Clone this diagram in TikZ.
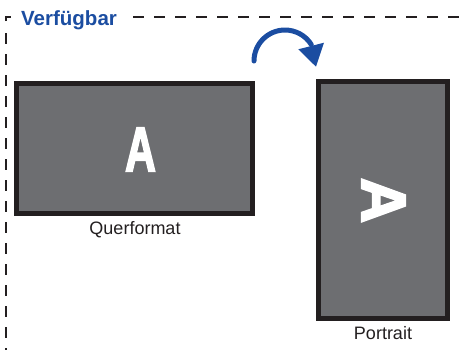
\documentclass[tikz,border=0pt]{standalone}
\usepackage{fontspec}
\setmainfont{Liberation Sans}
\newfontfamily\heavyA[FakeBold=3]{Liberation Sans Bold}
\definecolor{darkline}{HTML}{231F20}
\definecolor{screengray}{HTML}{6D6E71}
\definecolor{titleblue}{HTML}{1B4DA1}
\begin{document}
\begin{tikzpicture}[x=1pt,y=-1pt,
  screen/.style={draw=darkline,fill=screengray,line width=5pt,inner sep=0pt},
  caption/.style={text=darkline,font=\fontsize{18}{20}\selectfont,inner sep=0pt},
  bigA/.style={text=white,font=\heavyA\fontsize{63}{63}\selectfont,inner sep=0pt},
  frame/.style={draw=darkline,line width=2.4pt,dash pattern=on 10.5pt off 10.5pt}]
\useasboundingbox (0,0) rectangle (459,349);
% dashed frame
\draw[darkline,line width=2.4pt] (6,21) -- (6,17) -- (11,17);
\draw[frame] (6,33) -- (6,352);
\draw[frame] (133,17) -- (462,17);
\node[anchor=base west,inner sep=0pt,text=titleblue,font=\bfseries\fontsize{20.5}{22}\selectfont] (title) at (21,25) {Verfügbar};
% screens
\node[screen,minimum width=236pt,minimum height=130pt] (land) at (134.5,148.5) {};
\node[bigA,xscale=0.68] (landA) at (140.5,149.5) {A};
\node[caption,anchor=center] (landcap) at (135,230) {Querformat};
\node[screen,minimum width=129pt,minimum height=237pt] (port) at (383,200) {};
\node[bigA,rotate=-90] (portA) at (383.5,200.5) {A};
\node[caption,anchor=center] (portcap) at (383,333) {Portrait};
% rotation arrow
\draw[titleblue,line width=5pt,line cap=round] (254,61) arc[start angle=180,end angle=328,radius=31];
\fill[titleblue] (298.3,49.3) -- (324,42.7) -- (316,66.7) -- cycle;
\end{tikzpicture}
\end{document}
